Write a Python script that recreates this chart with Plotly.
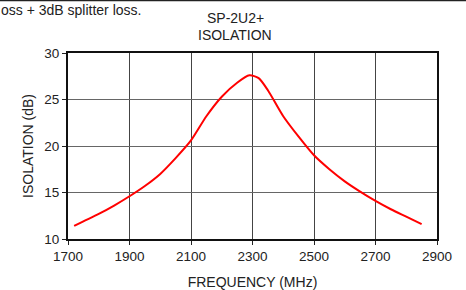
import plotly.graph_objects as go

freq_mhz = [1720, 1750, 1800, 1850, 1900, 1950, 2000, 2050, 2100, 2150, 2200, 2250,
            2290, 2320, 2350, 2400, 2450, 2500, 2550, 2600, 2650, 2700, 2750, 2800, 2850]
isolation_db = [11.4, 11.9, 12.7, 13.6, 14.6, 15.7, 17.0, 18.7, 20.6, 23.2, 25.3, 26.8,
                27.6, 27.3, 26.0, 23.2, 21.0, 19.0, 17.5, 16.2, 15.1, 14.1, 13.2, 12.4, 11.6]
x_ticks = [1700, 1900, 2100, 2300, 2500, 2700, 2900]
y_ticks = [10, 15, 20, 25, 30]
title_lines = ["SP-2U2+", "ISOLATION"]

FONT = "Liberation Sans, Arial, sans-serif"
TXT = "#222222"

fig = go.Figure()
fig.add_trace(go.Scatter(x=freq_mhz, y=isolation_db, mode="lines",
                         line=dict(color="#ff0000", width=2, shape="spline", smoothing=0.7),
                         showlegend=False, hoverinfo="skip"))

fig.update_layout(
    width=466, height=290,
    margin=dict(l=68, r=29, t=53, b=51),
    paper_bgcolor="white", plot_bgcolor="white",
    font=dict(family=FONT, size=13, color=TXT),
    xaxis=dict(range=[1700, 2900], tickvals=x_ticks, ticks="outside", ticklen=4,
               tickcolor=TXT, showgrid=True, gridcolor="#444444", gridwidth=1,
               showline=True, linecolor="#111111", linewidth=2, mirror=True,
               zeroline=False, automargin=False,
               title=dict(text="FREQUENCY (MHz)", standoff=15, font=dict(size=14, color=TXT)),
               tickfont=dict(size=13.5, color=TXT)),
    yaxis=dict(range=[10, 30], tickvals=y_ticks, ticks="outside", ticklen=4,
               tickcolor=TXT, showgrid=True, gridcolor="#666666", gridwidth=1,
               showline=True, linecolor="#111111", linewidth=2, mirror=True,
               zeroline=False, automargin=False,
               title=dict(text="ISOLATION (dB)", standoff=7, font=dict(size=14, color=TXT)),
               tickfont=dict(size=13.5, color=TXT)),
)

def py(pix):
    return (239.3 - pix) / 186

for line_text, ypix in zip(title_lines, [18, 35]):
    fig.add_annotation(text=line_text, xref="paper", yref="paper",
                       x=(235 - 68) / 369, y=py(ypix), xanchor="center", yanchor="middle",
                       showarrow=False, font=dict(size=14, color=TXT))

fig.add_annotation(text="oss + 3dB splitter loss.", xref="paper", yref="paper",
                   x=(143 - 68) / 369, y=py(10), xanchor="right", yanchor="middle",
                   showarrow=False, font=dict(size=14, color=TXT))
fig.add_shape(type="line", xref="paper", yref="paper",
              x0=-68 / 369, x1=(466 - 68) / 369, y0=py(0.5), y1=py(0.5),
              line=dict(color="#222222", width=2))

fig.write_html("out.html", config={"displayModeBar": False},
               post_script="document.body.style.margin='0';")
